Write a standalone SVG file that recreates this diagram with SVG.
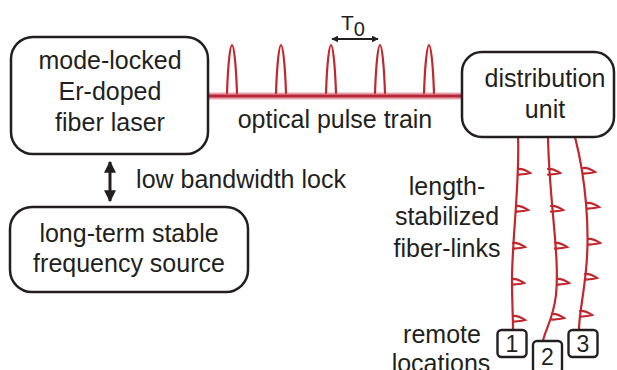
<svg xmlns="http://www.w3.org/2000/svg" width="617" height="370" viewBox="0 0 617 370">
<style>
.box{fill:#fff;stroke:#231f20;stroke-width:2.5}
.sbox{fill:#fff;stroke:#231f20;stroke-width:2.4}
.t{font-family:"Liberation Sans",Arial,sans-serif;font-size:25px;fill:#231f20;text-anchor:middle}
.n{font-family:"Liberation Sans",Arial,sans-serif;font-size:23px;fill:#231f20;text-anchor:middle}
.red{fill:none;stroke:#c1272d;stroke-width:2.2;stroke-linecap:round}
</style>
<defs>
<marker id="ah" viewBox="0 0 10 10" refX="9" refY="5" markerWidth="4" markerHeight="4" orient="auto-start-reverse" markerUnits="strokeWidth">
<path d="M0,0 L10,5 L0,10 Z" fill="#231f20"/>
</marker>
<marker id="ah2" viewBox="0 0 10 10" refX="9" refY="5" markerWidth="3.5" markerHeight="3.5" orient="auto-start-reverse" markerUnits="strokeWidth">
<path d="M0,0 L10,5 L0,10 Z" fill="#231f20"/>
</marker>
<path id="pulse" d="M-5,0 C-4,-28 -2,-48 0,-48 C2,-48 4,-28 5,0" class="red"/>
<path id="hook" d="M0,-4 C5,-4.5 9,-2 12,0 C8,1.2 3,1.4 0,1.6" class="red"/>
</defs>

<g id="connectors">
<line x1="208" y1="96" x2="463" y2="96" stroke="#e6a3ab" stroke-width="7"/>
<line x1="208" y1="96" x2="463" y2="96" stroke="#b8283a" stroke-width="3"/>
<use href="#pulse" x="232" y="93"/>
<use href="#pulse" x="281" y="93"/>
<use href="#pulse" x="331" y="93"/>
<use href="#pulse" x="380" y="93"/>
<use href="#pulse" x="429" y="93"/>
<line x1="332" y1="39" x2="378" y2="39" stroke="#231f20" stroke-width="2" marker-start="url(#ah2)" marker-end="url(#ah2)"/>
<line x1="110" y1="162" x2="110" y2="201" stroke="#231f20" stroke-width="3" marker-start="url(#ah)" marker-end="url(#ah)"/>
<path class="red" d="M518,137 C520,180 512,240 512,280 C512,300 513,315 513,330"/>
<path class="red" d="M548,137 C549,200 560,255 556,295 C553,320 545,330 543,341"/>
<path class="red" d="M575,137 C586,180 590,230 586,270 C583,300 579,315 579,330"/>
<use href="#hook" x="518" y="173"/>
<use href="#hook" x="516" y="210"/>
<use href="#hook" x="513" y="247"/>
<use href="#hook" x="512" y="283"/>
<use href="#hook" x="513" y="320"/>
<use href="#hook" x="548" y="173"/>
<use href="#hook" x="551" y="210"/>
<use href="#hook" x="555" y="247"/>
<use href="#hook" x="557" y="283"/>
<use href="#hook" x="552" y="318"/>
<use href="#hook" x="583" y="172"/>
<use href="#hook" x="587" y="207"/>
<use href="#hook" x="588" y="243"/>
<use href="#hook" x="585" y="278"/>
<use href="#hook" x="580" y="315"/>
</g>

<g id="laser">
<rect class="box" x="11" y="37" width="197" height="117" rx="22"/>
<text class="t" x="110" y="69">mode-locked</text>
<text class="t" x="110" y="100">Er-doped</text>
<text class="t" x="110" y="131">fiber laser</text>
</g>

<g id="source">
<rect class="box" x="10" y="207" width="238" height="85" rx="22"/>
<text class="t" x="129" y="242">long-term stable</text>
<text class="t" x="129" y="272">frequency source</text>
</g>

<g id="distribution">
<rect class="box" x="462" y="52" width="152" height="85" rx="20"/>
<text class="t" x="545" y="87">distribution</text>
<text class="t" x="545" y="118">unit</text>
</g>

<g id="labels">
<text class="t" x="335" y="128">optical pulse train</text>
<text class="t" x="241" y="188">low bandwidth lock</text>
<text class="t" x="447" y="195">length-</text>
<text class="t" x="447" y="225">stabilized</text>
<text class="t" x="447" y="257">fiber-links</text>
<text class="t" x="442" y="343">remote</text>
<text class="t" x="441" y="372">locations</text>
<text font-family="Liberation Sans,Arial,sans-serif" font-size="21" fill="#231f20" x="341" y="30">T<tspan font-size="20" dx="0" dy="6">0</tspan></text>
</g>

<g id="remote1">
<rect class="sbox" x="497.5" y="330" width="29" height="27" rx="4"/>
<text class="n" x="512" y="352">1</text>
</g>
<g id="remote2">
<rect class="sbox" x="533" y="341" width="29" height="32" rx="4"/>
<text class="n" x="547.5" y="365">2</text>
</g>
<g id="remote3">
<rect class="sbox" x="568.5" y="330" width="29" height="27" rx="4"/>
<text class="n" x="583" y="352">3</text>
</g>
</svg>
